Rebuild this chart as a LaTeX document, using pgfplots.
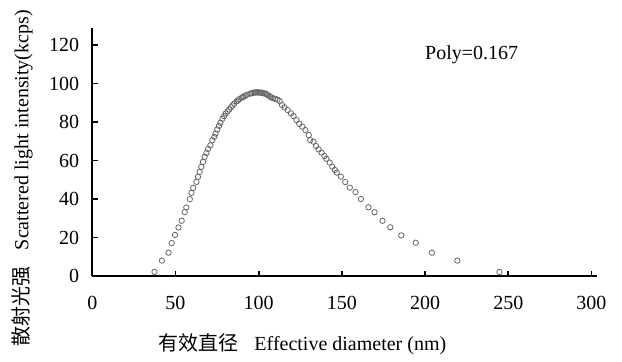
\documentclass[border=0pt]{standalone}
\usepackage{fontspec}
\setmainfont{Liberation Serif}
\newfontfamily\cjk{Noto Sans CJK SC}
\usepackage{pgfplots}
\pgfplotsset{compat=1.18}
\begin{document}
\begin{tikzpicture}
\begin{axis}[
  scale only axis,
  width=252.5pt, height=124pt,
  xmin=0, xmax=303.5, ymin=0, ymax=128.8,
  axis x line*=bottom, axis y line*=left,
  axis line style={line width=1pt, black},
  tick align=inside,
  major tick length=2.6pt,
  tick style={line width=0.9pt, black},
  xtick={0,50,100,150,200,250,300},
  ytick={0,20,40,60,80,100,120},
  /pgf/number format/assume math mode=true,
  tick label style={font=\fontsize{10}{12}\selectfont},
  xticklabel style={yshift=-6.5pt},
  yticklabel style={xshift=-3pt},
  xlabel={{\cjk 有效直径}\hspace{0.8em}Effective diameter (nm)},
  ylabel={{\cjk 散射光强}\hspace{0.8em}Scattered light intensity(kcps)},
  label style={font=\fontsize{10}{12}\selectfont},
  xlabel style={at={(axis description cs:0.416,-0.274)}, anchor=center},
  ylabel style={at={(axis description cs:-0.139,0.395)}, anchor=center, rotate=0},
  clip=false,
]
\addplot[only marks, mark=o, mark size=1.35pt, color=black!60, mark options={line width=0.4pt}] coordinates {
(37.4,2.1) (41.8,8.0) (45.8,12.1) (47.7,17.1) (49.7,21.3) (51.8,25.2) (53.7,28.7)
(55.5,33.2) (56.5,35.6) (58.6,39.9) (59.6,43.2) (60.6,45.8) (62.6,48.9) (63.5,51.5)
(64.5,54.1) (65.5,56.7) (66.5,59.3) (67.5,61.9) (68.6,63.9) (69.6,66.0) (71.0,67.9)
(72.1,70.5) (73.3,72.3) (74.1,74.0) (75.1,76.1) (76.1,78.0) (77.0,79.6) (78.2,81.7)
(79.2,83.0) (80.2,84.4) (81.3,85.5) (82.3,86.5) (83.3,87.6) (84.3,88.6) (85.3,89.6)
(86.8,90.7) (87.5,91.2) (88.2,91.8) (89.8,92.6) (90.6,93.0) (91.4,93.3) (92.2,93.8)
(93.1,94.2) (94.9,94.7) (95.8,95.0) (96.8,95.2) (97.6,95.3) (98.4,95.3) (99.2,95.4)
(100.0,95.3) (100.8,95.3) (101.6,95.2) (102.3,95.1) (103.1,94.9) (104.0,94.7)
(104.9,94.4) (105.8,93.8) (106.8,93.2) (107.7,92.8) (108.7,92.3) (110.0,92.0)
(111.3,91.6) (112.6,90.9) (114.0,88.8) (115.5,87.6) (117.4,86.2) (119.4,84.5)
(120.9,83.1) (122.7,81.0) (124.4,79.0) (126.2,77.6) (128.1,75.8) (130.1,73.2)
(131.0,70.6) (132.9,69.8) (134.5,67.5) (136.0,65.8) (137.8,64.1) (139.5,62.3)
(140.7,60.9) (142.7,58.9) (144.2,56.8) (145.8,55.1) (146.9,53.7) (149.4,51.6)
(152.0,48.8) (154.8,45.9) (158.2,43.6) (161.4,40.0) (166.0,35.7) (169.6,33.1)
(174.4,28.7) (179.1,25.3) (185.7,21.1) (194.4,17.3) (204.1,12.1) (219.4,8.0)
(244.7,2.1)
};
\node[font=\fontsize{10}{12}\selectfont] at (axis cs:228,114.8) {Poly=0.167};
\path (rel axis cs:-0.1828,-0.327) rectangle (rel axis cs:1.049,1.113);
\end{axis}
\end{tikzpicture}
\end{document}
